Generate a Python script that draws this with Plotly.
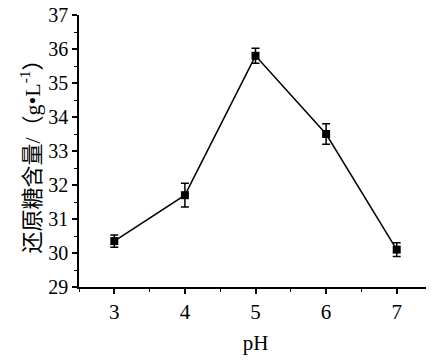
import plotly.graph_objects as go

ph = [3, 4, 5, 6, 7]
sugar = [30.35, 31.7, 35.8, 33.5, 30.1]
err = [0.18, 0.35, 0.22, 0.3, 0.2]
x_ticks = [3, 4, 5, 6, 7]
y_ticks = [29, 30, 31, 32, 33, 34, 35, 36, 37]

font_fam = "Liberation Serif, Times New Roman, Noto Sans CJK SC, serif"

fig = go.Figure()
fig.add_trace(go.Scatter(
    x=ph, y=sugar, mode="lines+markers",
    line=dict(color="black", width=1.5),
    marker=dict(symbol="square", size=8, color="black"),
    error_y=dict(type="data", array=err, visible=True, color="black", thickness=1.5, width=4),
    showlegend=False,
))

# page body has an 8px margin, so the figure is sized/margined to compensate
fig.update_layout(
    width=426, height=352,
    margin=dict(l=71, r=2, t=7, b=73, autoexpand=False),
    paper_bgcolor="white", plot_bgcolor="white",
    font=dict(family=font_fam, size=21, color="black"),
    xaxis=dict(
        range=[2.5, 7.5], tickvals=x_ticks, ticktext=[str(v) for v in x_ticks],
        showline=True, linecolor="black", linewidth=1.5, mirror=False,
        ticks="outside", ticklen=5, tickwidth=1.5, tickcolor="black",
        minor=dict(dtick=0.5, tick0=2.5, ticks="outside", ticklen=3, tickwidth=1.2, tickcolor="black"),
        showgrid=False, zeroline=False, automargin=False, ticklabeloverflow="allow",
        title=dict(text="pH", font=dict(family=font_fam, size=21, color="black"), standoff=12),
        tickfont=dict(family=font_fam, size=21, color="black"),
    ),
    yaxis=dict(
        range=[29, 37], tickvals=y_ticks, ticktext=[str(v) for v in y_ticks],
        showline=True, linecolor="black", linewidth=1.5, mirror=False,
        ticks="outside", ticklen=5, tickwidth=1.5, tickcolor="black",
        minor=dict(dtick=0.5, tick0=29, ticks="outside", ticklen=3, tickwidth=1.2, tickcolor="black"),
        showgrid=False, zeroline=False, automargin=False, ticklabeloverflow="allow",
        title=dict(text="还原糖含量/（g•L<sup>-1</sup>）", font=dict(family=font_fam, size=22, color="black"), standoff=2),
        tickfont=dict(family=font_fam, size=20, color="black"),
    ),
)

fig.write_html("out.html")
